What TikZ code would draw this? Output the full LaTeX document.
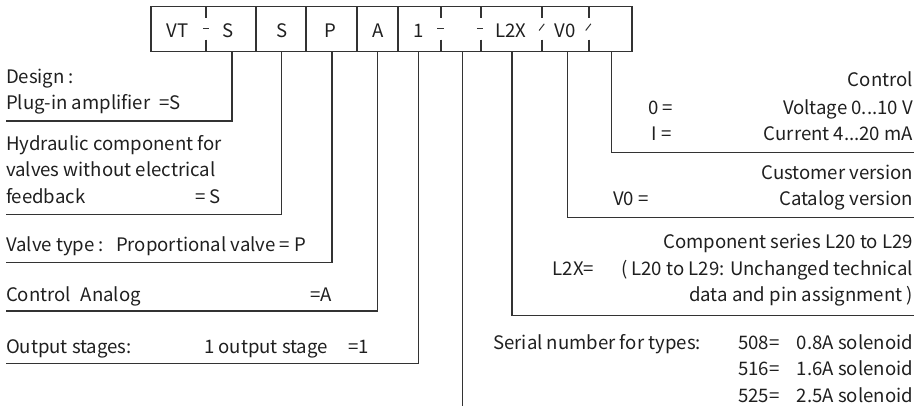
\documentclass[tikz,border=0pt]{standalone}
\usepackage{fontspec}
\setmainfont{Noto Sans CJK SC}
\begin{document}
\begin{tikzpicture}[x=1pt,y=-1pt,
  every node/.style={inner sep=0pt, outer sep=0pt, text=black!88,
    font=\fontsize{18.6}{25}\selectfont},
  lw/.style={anchor=base west},
  le/.style={anchor=base east},
  lc/.style={anchor=base},
  conn/.style={draw=black!80, line width=1.2pt},
  frame/.style={draw=black!80, line width=1.2pt}]
\useasboundingbox (0,0) rectangle (922,407);

% type code box
\node[frame, minimum width=481pt, minimum height=45pt, anchor=north west] (box) at (151,6.5) {};
\foreach \x in {256,306,357,398}
  \draw[frame] (\x,6.5) -- (\x,51.5);
% split dividers: short stubs with a dash or slash in between
\foreach \x in {206,441,481,542,589} {
  \draw[frame] (\x,6.5) -- (\x,18.3);
  \draw[frame] (\x,39.5) -- (\x,51.5);
}
\foreach \x in {206,440.5,480} \draw[frame, line width=1pt] (\x-3.2,28.3) -- (\x+3.2,28.3);
\foreach \x in {541.7,588.3} \draw[frame, line width=1pt] (\x-2.6,30.5) -- (\x+2.6,23.8);

% cell letters
\node[lc] (cVT) at (177.7,37.5) {VT};
\node[lc] (cS1) at (228.5,37.5) {S};
\node[lc] (cS2) at (281.7,37.5) {S};
\node[lc] (cP)  at (330,37.5) {P};
\node[lc] (cA)  at (377.7,37.5) {A};
\node[lc] (c1)  at (419,37.5) {1};
\node[lc] (cL)  at (511,37.5) {L2X};
\node[lc] (cV)  at (565,37.5) {V0};

% connector start points on the lower box edge
\coordinate (tDesign) at (232,51.5);
\coordinate (tHydr)   at (281.5,51.5);
\coordinate (tValve)  at (332,51.5);
\coordinate (tCtrlA)  at (377.7,51.5);
\coordinate (tOut)    at (418.3,51.5);
\coordinate (tSerial) at (462.8,51.5);
\coordinate (tSeries) at (512,51.5);
\coordinate (tVers)   at (567.7,51.5);
\coordinate (tCtrl)   at (611.5,51.5);

% connector end points
\coordinate (eDesign) at (6,121);
\coordinate (eHydr)   at (6,214.5);
\coordinate (eValve)  at (6,262.5);
\coordinate (eCtrlA)  at (6,311);
\coordinate (eOut)    at (6,363.5);
\coordinate (eSerial) at (462.8,406);
\coordinate (eSeries) at (913.5,315.5);
\coordinate (eVers)   at (913.5,217.5);
\coordinate (eCtrl)   at (913.5,152.5);

\draw[conn] (tDesign) |- (eDesign);
\draw[conn] (tHydr)   |- (eHydr);
\draw[conn] (tValve)  |- (eValve);
\draw[conn] (tCtrlA)  |- (eCtrlA);
\draw[conn] (tOut)    |- (eOut);
\draw[conn] (tSerial) -- (eSerial);
\draw[conn] (tSeries) |- (eSeries);
\draw[conn] (tVers)   |- (eVers);
\draw[conn] (tCtrl)   |- (eCtrl);

% left-hand descriptions
\node[lw] (design1) at (6,83) {Design :};
\node[lw] (design2) at (6,109.5) {Plug-in amplifier};
\node[lw] (design3) at (159,109.5) {=S};
\node[lw] (hyd1) at (6,150) {Hydraulic component for};
\node[lw] (hyd2) at (6,176.7) {valves without electrical};
\node[lw] (hyd3) at (6,203.3) {feedback};
\node[lw] (hyd4) at (195,203.3) {= S};
\node[lw] (valve1) at (6,251) {Valve type :};
\node[lw] (valve2) at (116,251) {Proportional valve = P};
\node[lw] (ctrlA1) at (6,301.7) {Control\hspace{0.3em} Analog};
\node[lw] (ctrlA2) at (310,301.7) {=A};
\node[lw] (out1) at (6,353.3) {Output stages:};
\node[lw] (out2) at (204,353.3) {1 output stage};
\node[lw] (out3) at (348.3,353.3) {=1};

% right-hand descriptions
\node[le] (ctrl0) at (913,86.7) {Control};
\node[lw] (ctrl1) at (648,114.3) {0 =};
\node[le] (ctrl2) at (913,114.3) {Voltage 0...10 V};
\node[lw] (ctrl3) at (651.7,140.5) {I =};
\node[le] (ctrl4) at (913,140.5) {Current 4...20 mA};
\node[le] (vers1) at (913,179) {Customer version};
\node[lw] (vers2) at (613,205) {V0 =};
\node[le] (vers3) at (913,205) {Catalog version};
\node[le] (ser1) at (913,248.3) {Component series L20 to L29};
\node[lw] (ser2) at (552.7,275) {L2X=};
\node[le] (ser3) at (913,275) {( L20 to L29: Unchanged technical};
\node[le] (ser4) at (913,301.3) {data and pin assignment )};
\node[lw] (sn0) at (493.3,349.3) {Serial number for types:};
\node[lw] (sn1) at (738.3,349.3) {508=};
\node[le] (sn2) at (913,349.3) {0.8A solenoid};
\node[lw] (sn3) at (738.3,375.8) {516=};
\node[le] (sn4) at (913,375.8) {1.6A solenoid};
\node[lw] (sn5) at (738.3,402.3) {525=};
\node[le] (sn6) at (913,402.3) {2.5A solenoid};
\end{tikzpicture}
\end{document}
